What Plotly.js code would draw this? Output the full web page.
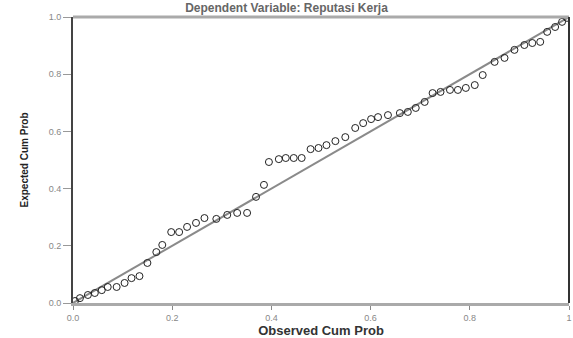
<!DOCTYPE html>
<html>
<head>
<meta charset="utf-8">
<script src="https://cdn.plot.ly/plotly-3.0.1.min.js"></script>
<style>html,body{margin:0;padding:0;background:#fff;}#chart{width:573px;height:338px;}</style>
</head>
<body>
<div id="chart"></div>
<script>
const observedCumProb = [0.004,0.014,0.030,0.044,0.058,0.070,0.088,0.104,0.118,0.134,0.150,0.168,0.180,0.198,0.214,0.230,0.248,0.265,0.289,0.311,0.331,0.351,0.369,0.385,0.395,0.415,0.429,0.445,0.461,0.479,0.495,0.511,0.529,0.549,0.569,0.585,0.601,0.615,0.635,0.659,0.675,0.691,0.709,0.725,0.741,0.760,0.776,0.792,0.810,0.826,0.850,0.870,0.890,0.910,0.926,0.942,0.956,0.972,0.986,0.996];
const expectedCumProb = [0.007,0.017,0.028,0.035,0.045,0.056,0.056,0.070,0.087,0.094,0.140,0.178,0.203,0.248,0.248,0.266,0.280,0.297,0.294,0.308,0.315,0.315,0.371,0.413,0.493,0.503,0.507,0.507,0.507,0.538,0.542,0.552,0.566,0.580,0.612,0.629,0.643,0.650,0.657,0.664,0.668,0.682,0.703,0.734,0.738,0.745,0.745,0.752,0.762,0.797,0.843,0.857,0.885,0.902,0.909,0.913,0.948,0.965,0.983,0.997];
const refLine = [0, 1];
const yTickVals = [0, 0.2, 0.4, 0.6, 0.8, 1.0];
const yTickText = ["0.0", "0.2", "0.4", "0.6", "0.8", "1.0"];
const xTickVals = [0, 0.2, 0.4, 0.6, 0.8, 1.0];
const xTickText = ["0.0", "0.2", "0.4", "0.6", "0.8", "1"];
const chartTitle = "Dependent Variable: Reputasi Kerja";

const traces = [
  {x: refLine, y: refLine, mode: 'lines', line: {color: '#8a8a8a', width: 2}, hoverinfo: 'skip', showlegend: false},
  {x: observedCumProb, y: expectedCumProb, mode: 'markers', marker: {symbol: 'circle-open', size: 7, color: '#222', line: {width: 1}}, showlegend: false}
];
const layout = {
  width: 573, height: 338,
  margin: {l: 73, r: 4, t: 17, b: 35},
  paper_bgcolor: '#fff', plot_bgcolor: '#fff',
  title: {text: '<b>' + chartTitle + '</b>', x: 0.5, xanchor: 'center', y: 0.978, yanchor: 'middle', font: {family: 'Arial, Liberation Sans', size: 12, color: '#666'}},
  xaxis: {range: [0, 1], tickvals: xTickVals, ticktext: xTickText, ticks: 'outside', ticklen: 4, tickcolor: '#888', tickwidth: 1,
    tickfont: {family: 'Arial, Liberation Sans', size: 9, color: '#888'}, showgrid: false, zeroline: false,
    showline: true, linecolor: '#aaa', linewidth: 3, mirror: false,
    title: {text: '<b>Observed Cum Prob</b>', font: {family: 'Arial, Liberation Sans', size: 13, color: '#333'}, standoff: 2}},
  yaxis: {range: [0, 1], tickvals: yTickVals, ticktext: yTickText, ticks: 'outside', ticklen: 8, tickcolor: '#999', tickwidth: 1,
    tickfont: {family: 'Arial, Liberation Sans', size: 9, color: '#888'}, showgrid: false, zeroline: false,
    showline: true, linecolor: '#444', linewidth: 2, mirror: false,
    title: {text: '<b>Expected Cum Prob</b>', font: {family: 'Liberation Sans Narrow, Arial Narrow, Arial', size: 10, color: '#222'}, standoff: 18}},
  shapes: [
    {type: 'line', xref: 'paper', yref: 'paper', x0: 0, x1: 1, y0: 1, y1: 1, line: {color: '#aaa', width: 3}},
    {type: 'line', xref: 'paper', yref: 'paper', x0: 1, x1: 1, y0: 0, y1: 1, line: {color: '#333', width: 2}}
  ]
};
Plotly.newPlot('chart', traces, layout, {displayModeBar: false, staticPlot: true});
</script>
</body>
</html>
